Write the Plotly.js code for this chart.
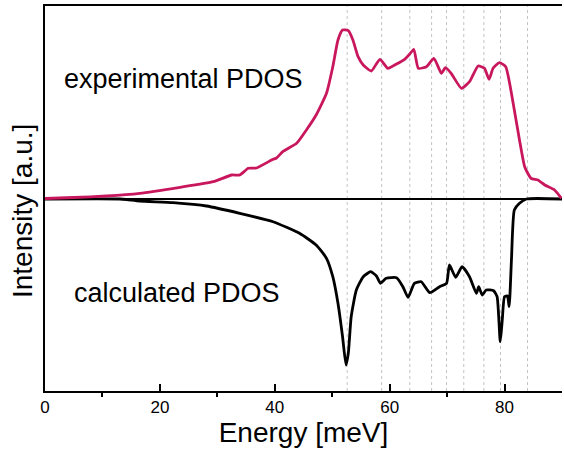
<!DOCTYPE html>
<html>
<head>
<meta charset="utf-8">
<script src="https://cdn.plot.ly/plotly-3.0.1.min.js"></script>
<style>html,body{margin:0;padding:0;background:#fff}#chart{width:564px;height:457px}</style>
</head>
<body>
<div id="chart"></div>
<script>
// Experimental PDOS (arbitrary units)
const expEnergy = [0, 5, 10.7, 16.5, 23.5, 29.3, 32.5, 33.9, 35.4, 36.8, 39.7, 40.3, 41.4, 43.8, 45.5, 47.2, 49.0, 50.1, 51.0, 51.8, 52.8, 53.6, 54.5, 55.4, 56.8, 58.3, 59.7, 61.2, 62.6, 63.5, 64.2, 65.0, 66.4, 67.7, 69.0, 69.7, 70.7, 72.5, 73.9, 75.4, 76.5, 77.3, 78.0, 79.1, 80.2, 81.4, 82.6, 83.5, 84.6, 85.8, 87.0, 88.7, 89.9];
const expValue  = [0.005, 0.015, 0.03, 0.057, 0.117, 0.173, 0.24, 0.24, 0.307, 0.31, 0.397, 0.41, 0.473, 0.557, 0.69, 0.84, 1.057, 1.323, 1.59, 1.69, 1.683, 1.59, 1.423, 1.34, 1.28, 1.397, 1.307, 1.35, 1.397, 1.45, 1.497, 1.307, 1.323, 1.407, 1.257, 1.313, 1.257, 1.107, 1.173, 1.33, 1.307, 1.197, 1.307, 1.363, 1.323, 0.99, 0.59, 0.323, 0.207, 0.19, 0.14, 0.09, 0.007];

// Calculated PDOS (plotted downward, arbitrary units)
const calcEnergy = [0, 13, 14.2, 16.5, 22.3, 28.1, 33.9, 39.7, 44.3, 47.2, 49.0, 50.1, 51.0, 51.8, 52.4, 52.8, 53.3, 54.2, 55.4, 56.7, 57.7, 58.4, 59.4, 61.2, 62.3, 63.2, 64.3, 65.5, 67.0, 68.7, 69.9, 70.4, 71.5, 72.6, 73.9, 75.1, 75.5, 76.1, 76.8, 78.1, 78.7, 79.25, 79.6, 80.0, 80.5, 80.8, 81.2, 81.7, 82.6, 83.8, 90];
const calcValue  = [0, 0, -0.005, -0.02, -0.037, -0.07, -0.143, -0.227, -0.343, -0.46, -0.593, -0.777, -1.043, -1.377, -1.66, -1.543, -1.177, -0.91, -0.777, -0.727, -0.77, -0.843, -0.793, -0.787, -0.877, -0.983, -0.843, -0.827, -0.937, -0.877, -0.843, -0.66, -0.783, -0.677, -0.777, -0.943, -0.877, -0.96, -0.91, -0.917, -0.977, -1.427, -1.21, -0.977, -0.97, -1.077, -0.61, -0.11, -0.043, 0, 0];

// Energies of the dotted guide lines
const guideEnergies = [52.6, 58.6, 63.5, 67.3, 69.9, 72.9, 76.4, 79.3, 84.0];

const xTicks = [0, 20, 40, 60, 80];
const xTickLabels = ['0', '20', '40', '60', '80'];

const FONT = 'Liberation Sans, Arial, sans-serif';

const traces = [
  {
    x: calcEnergy, y: calcValue, type: 'scatter', mode: 'lines',
    line: {color: '#000000', width: 2.8, shape: 'spline', smoothing: 0.5},
    hoverinfo: 'skip', showlegend: false
  },
  {
    x: expEnergy, y: expValue, type: 'scatter', mode: 'lines',
    line: {color: '#C9175E', width: 2.8, shape: 'spline', smoothing: 0.5},
    hoverinfo: 'skip', showlegend: false
  }
];

const shapes = guideEnergies.map(e => ({
  type: 'line', xref: 'x', yref: 'paper', x0: e, x1: e, y0: 0, y1: 1,
  line: {color: '#c4c4c4', width: 1, dash: 'dot'}, layer: 'below'
}));

const layout = {
  width: 564, height: 457,
  margin: {l: 45, r: 2, t: 6, b: 66},
  paper_bgcolor: '#ffffff', plot_bgcolor: '#ffffff',
  font: {family: FONT, color: '#000'},
  showlegend: false,
  xaxis: {
    range: [0, 90], showgrid: false, zeroline: false,
    showline: true, linecolor: '#000', linewidth: 2, mirror: true,
    ticks: 'inside', ticklen: 7, tickwidth: 2, tickcolor: '#000',
    tickvals: xTicks, ticktext: xTickLabels,
    tickfont: {size: 17, family: FONT, color: '#000'},
    minor: {tickvals: [10, 30, 50, 70, 90], ticks: 'outside', ticklen: 4, tickwidth: 2, tickcolor: '#000', showgrid: false},
    title: {text: 'Energy [meV]', font: {size: 28, family: FONT, color: '#000'}, standoff: 2}
  },
  yaxis: {
    range: [-1.92, 1.93], showgrid: false,
    zeroline: true, zerolinecolor: '#000', zerolinewidth: 2,
    showline: true, linecolor: '#000', linewidth: 2,
    ticks: '', showticklabels: false
  },
  shapes: shapes,
  annotations: [
    {text: 'Intensity [a.u.]', x: -0.0445, y: 0.4675, xref: 'paper', yref: 'paper', xanchor: 'center', yanchor: 'middle', textangle: -90, showarrow: false, font: {size: 28, family: FONT, color: '#000'}},
    {text: 'experimental PDOS', x: 0.033, y: 0.81, xref: 'paper', yref: 'paper', xanchor: 'left', yanchor: 'middle', showarrow: false, font: {size: 27, family: FONT, color: '#000'}},
    {text: 'calculated PDOS', x: 0.053, y: 0.255, xref: 'paper', yref: 'paper', xanchor: 'left', yanchor: 'middle', showarrow: false, font: {size: 27, family: FONT, color: '#000'}}
  ]
};

Plotly.newPlot('chart', traces, layout, {displayModeBar: false, staticPlot: true});
</script>
</body>
</html>
